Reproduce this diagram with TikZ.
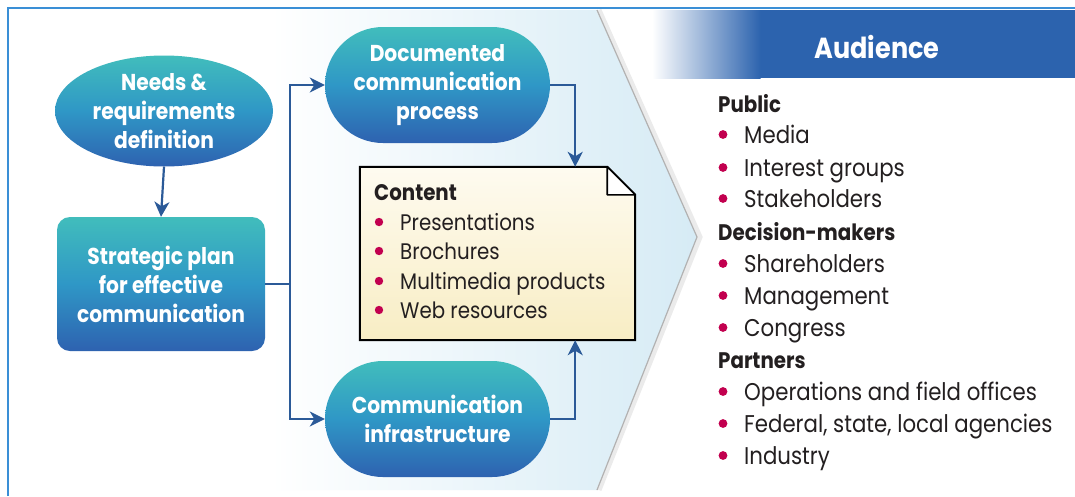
\documentclass[tikz,border=0pt]{standalone}
\usepackage{fontspec}
\setmainfont[FakeStretch=0.88]{Poppins}
\usetikzlibrary{arrows.meta,shapes.geometric,shapes.misc}
\definecolor{framec}{HTML}{3A8FD6}
\definecolor{nodetop}{HTML}{41BDBC}
\definecolor{nodemid}{HTML}{2F97C6}
\definecolor{nodebot}{HTML}{2E62B0}
\definecolor{arrowc}{HTML}{2B5A98}
\definecolor{bulc}{HTML}{C2004F}
\definecolor{headc}{HTML}{2C63AE}
\definecolor{chevc}{HTML}{D6EBF5}
\definecolor{notetop}{HTML}{FEFBF0}
\definecolor{notebot}{HTML}{F8EDC4}
\definecolor{textc}{HTML}{231F20}
\tikzset{
  flow/.style={text=white, font=\bfseries\fontsize{23}{29}\selectfont, align=center,
    top color=nodetop, bottom color=nodebot, middle color=nodemid, draw=none, inner sep=0pt},
  oval/.style={flow, ellipse, minimum width=218pt, minimum height=111pt},
  pill/.style={flow, rounded rectangle, minimum width=225pt, minimum height=116pt},
  planbox/.style={flow, rectangle, rounded corners=13pt, minimum width=208pt, minimum height=134pt},
  conn/.style={draw=arrowc, line width=2.2pt},
  tipped/.style={conn, -{Stealth[length=15pt,width=15pt,inset=4.5pt]}},
  listline/.style={anchor=base west, inner sep=0pt, text=textc, font=\fontsize{24.2}{30}\selectfont},
  listhead/.style={listline, font=\bfseries\fontsize{22.5}{30}\selectfont},
  cline/.style={anchor=base west, inner sep=0pt, text=textc, font=\fontsize{22.5}{29}\selectfont},
  chead/.style={cline, font=\bfseries\fontsize{22.5}{29}\selectfont},
  notebox/.style={rectangle, draw=none, minimum width=275pt, minimum height=173pt, inner sep=0pt},
  dot/.style={fill=bulc}
}
\begin{document}
\begin{tikzpicture}[x=1pt,y=-1pt]
\useasboundingbox (0,0) rectangle (1075,496);
\fill[white] (0,0) rectangle (1075,496);
% chevron background
\shade[left color=white, right color=chevc] (270,10) -- (597,10) -- (697,237) -- (597,490) -- (270,490) -- cycle;
\draw[line width=5pt, black!8] (599,10) -- (700,237) -- (599,490);
\draw[line width=1.2pt, black!30] (597,10) -- (697,237) -- (597,490);
% header band
\fill[headc] (760,10) rectangle (1075,78);
\shade[left color=white, right color=headc] (652,10) rectangle (760.5,78);
\node[text=white, font=\bfseries\fontsize{29}{34}\selectfont, anchor=base, inner sep=0pt] (aud) at (877,58) {Audience};
% frame
\draw[framec, line width=1.5pt] (8,496) -- (8,8) -- (1075,8);
% flow nodes
\node[oval] (needs) at (164,111) {Needs \&\\requirements\\definition};
\node[planbox] (plan) at (161,284) {Strategic plan\\for effective\\communication};
\node[pill] (doc) at (437.5,85) {Documented\\communication\\process};
\node[pill] (infra) at (437.5,419) {Communication\\infrastructure};
% note
\node[notebox] (note) at (497.5,253.5) {};
\filldraw[draw=black, line width=2pt, top color=notetop, bottom color=notebot]
  (note.north west) -- ([xshift=-28pt]note.north east) -- ([yshift=-28pt]note.north east)
  -- (note.south east) -- (note.south west) -- cycle;
\filldraw[draw=black, line width=1.6pt, fill=white, line join=round]
  ([xshift=-28pt]note.north east) -- ([xshift=-28pt,yshift=-28pt]note.north east) -- ([yshift=-28pt]note.north east) -- cycle;
\node[chead] (c0) at (374,200) {Content};
\node[cline] (c1) at (400,230) {Presentations};
\node[cline] (c2) at (400,259) {Brochures};
\node[cline] (c3) at (400,289) {Multimedia products};
\node[cline] (c4) at (400,318) {Web resources};
\foreach \b in {230,259,289,318} \fill[dot] (379,\b-8) circle (4.2);
% connectors
\coordinate (split) at ([xshift=25pt]plan.east);
\draw[tipped] (needs.south) -- (plan.north);
\draw[conn] (plan.east) -- (split);
\draw[tipped] (split) |- (doc.west);
\draw[tipped] (split) |- (infra.west);
\draw[tipped] (doc.east) -| ([xshift=-60pt]note.north east);
\draw[tipped] (infra.east) -| ([xshift=-60pt]note.south east);
% audience list
\node[listhead] (a1) at (718,112) {Public};
\node[listline] (a2) at (744,143) {Media};
\node[listline] (a3) at (744,176) {Interest groups};
\node[listline] (a4) at (744,207) {Stakeholders};
\node[listhead] (a5) at (718,240) {Decision-makers};
\node[listline] (a6) at (744,272) {Shareholders};
\node[listline] (a7) at (744,304) {Management};
\node[listline] (a8) at (744,336) {Congress};
\node[listhead] (a9) at (718,368) {Partners};
\node[listline] (a10) at (744,400) {Operations and field offices};
\node[listline] (a11) at (744,432) {Federal, state, local agencies};
\node[listline] (a12) at (744,464) {Industry};
\foreach \b in {143,176,207,272,304,336,400,432,464} \fill[dot] (723,\b-8.5) circle (4.4);
\end{tikzpicture}
\end{document}
